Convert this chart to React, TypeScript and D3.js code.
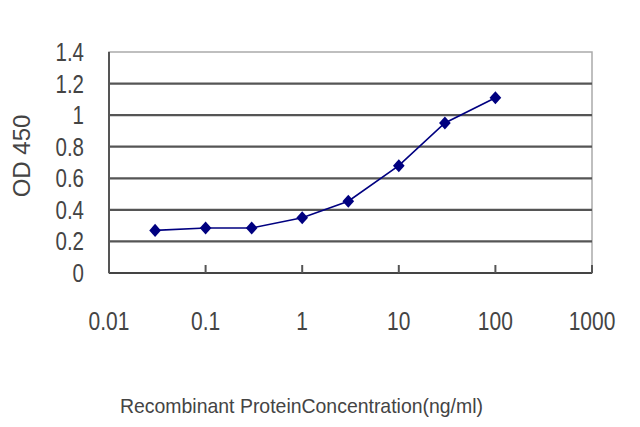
import * as React from "react";
import * as d3 from "d3";

// concentrations (ng/ml) and OD 450 readings
const concentrations = [0.03, 0.1, 0.3, 1, 3, 10, 30, 100];
const od450 = [0.27, 0.285, 0.285, 0.35, 0.455, 0.68, 0.95, 1.11];

const xTicks = [0.01, 0.1, 1, 10, 100, 1000];
const xTickLabels = ["0.01", "0.1", "1", "10", "100", "1000"];
const yTicks = [0, 0.2, 0.4, 0.6, 0.8, 1, 1.2, 1.4];
const yTickLabels = ["0", "0.2", "0.4", "0.6", "0.8", "1", "1.2", "1.4"];

const width = 640;
const height = 427;
const marginLeft = 109;
const marginRight = 48;
const marginTop = 52;
const plotBottom = 273;

const font = "'Liberation Sans', Arial, sans-serif";
const navy = "#000080";

const App: React.FC = () => {
  const x = d3
    .scaleLog()
    .domain([0.01, 1000])
    .range([marginLeft, width - marginRight]);

  const y = d3.scaleLinear().domain([0, 1.4]).range([plotBottom, marginTop]);

  const line = d3
    .line<number>()
    .x((d, i) => x(concentrations[i]))
    .y((d) => y(d));

  const diamond = d3.symbol(d3.symbolSquare, 68)();

  // squeeze text horizontally around its anchor
  const squeeze = (cx: number, k: number) =>
    `translate(${cx},0) scale(${k},1) translate(${-cx},0)`;

  return (
    <svg
      width={width}
      height={height}
      style={{ position: "absolute", left: 0, top: 0, background: "#fff" }}
    >
      {/* plot frame */}
      <rect
        x={x(0.01)}
        y={y(1.4)}
        width={x(1000) - x(0.01)}
        height={y(0) - y(1.4)}
        fill="#fff"
        stroke="#aaa"
        strokeWidth={1.5}
      />

      {/* horizontal gridlines */}
      {yTicks.slice(1, -1).map((t) => (
        <line
          key={t}
          x1={x(0.01)}
          x2={x(1000)}
          y1={y(t)}
          y2={y(t)}
          stroke="#555"
          strokeWidth={2.2}
        />
      ))}

      {/* axes */}
      <line x1={x(0.01)} x2={x(0.01)} y1={y(1.4)} y2={y(0)} stroke="#555" strokeWidth={2} />
      <line x1={x(0.01)} x2={x(1000)} y1={y(0)} y2={y(0)} stroke="#444" strokeWidth={2.2} />
      {xTicks.map((t) => (
        <line key={t} x1={x(t)} x2={x(t)} y1={y(0)} y2={y(0) - 8} stroke="#555" strokeWidth={2} />
      ))}

      {/* y tick labels */}
      <g fontFamily={font} fontSize={25} fill="#444" textAnchor="end">
        {yTicks.map((t, i) => (
          <text key={t} x={84} y={y(t)} dy="0.36em" transform={squeeze(84, 0.82)}>
            {yTickLabels[i]}
          </text>
        ))}
      </g>

      {/* x tick labels */}
      <g fontFamily={font} fontSize={25} fill="#444" textAnchor="middle">
        {xTicks.map((t, i) => (
          <text key={t} x={x(t)} y={330} transform={squeeze(x(t), 0.84)}>
            {xTickLabels[i]}
          </text>
        ))}
      </g>

      {/* axis titles */}
      <text
        transform="translate(30,156) rotate(-90)"
        fontFamily={font}
        fontSize={24}
        fill="#444"
        textAnchor="middle"
      >
        OD 450
      </text>
      <text
        x={120}
        y={413}
        fontFamily={font}
        fontSize={21}
        fill="#444"
        textLength={363}
        lengthAdjust="spacingAndGlyphs"
      >
        Recombinant ProteinConcentration(ng/ml)
      </text>

      {/* series */}
      <path fill="none" stroke={navy} strokeWidth={1.6} d={line(od450) || undefined} />
      <g fill={navy}>
        {od450.map((d, i) => (
          <path
            key={i}
            d={diamond || undefined}
            transform={`translate(${x(concentrations[i])},${y(d)}) scale(1,1.12) rotate(45)`}
          />
        ))}
      </g>
    </svg>
  );
};

export default App;
